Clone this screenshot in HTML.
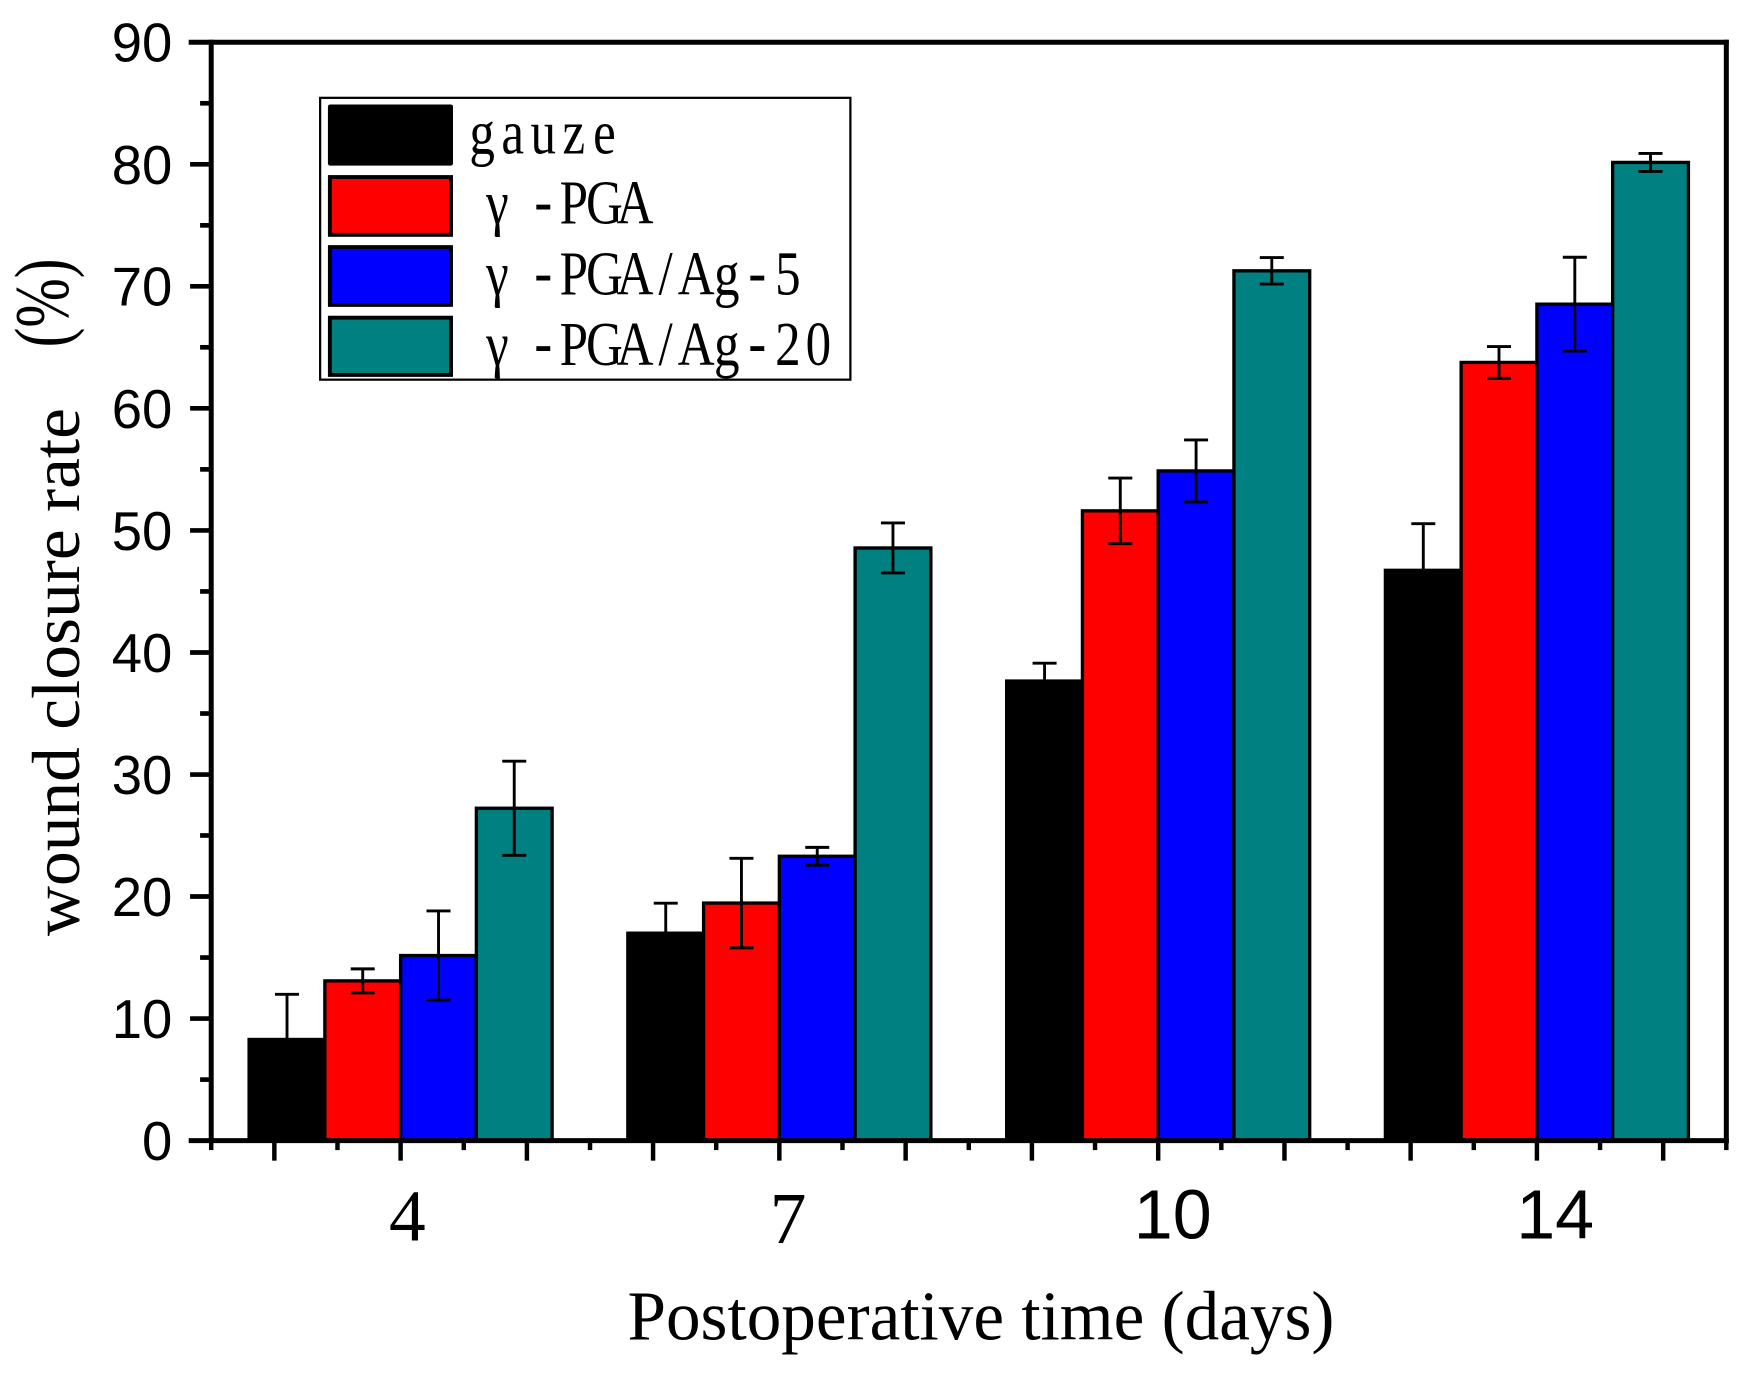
<!DOCTYPE html>
<html>
<head>
<meta charset="utf-8">
<style>
html,body{margin:0;padding:0;background:#fff;}
svg{display:block;}
</style>
</head>
<body>
<svg width="1743" height="1373" viewBox="0 0 1568 1235" preserveAspectRatio="none" xmlns="http://www.w3.org/2000/svg">
<rect x="0" y="0" width="1568" height="1235" fill="#fff"/>

<!-- Bars -->
<g stroke="#000" stroke-width="3">
  <rect x="224.1" y="935.0" width="68.15" height="91.0" fill="#000"/>
  <rect x="292.25" y="882.3" width="68.15" height="143.7" fill="#ff0000"/>
  <rect x="360.4" y="859.5" width="68.15" height="166.5" fill="#0000ff"/>
  <rect x="428.55" y="727.0" width="68.15" height="299.0" fill="#008080"/>
  <rect x="564.8" y="839.4" width="68.15" height="186.6" fill="#000"/>
  <rect x="632.95" y="812.3" width="68.15" height="213.7" fill="#ff0000"/>
  <rect x="701.1" y="770.2" width="68.15" height="255.8" fill="#0000ff"/>
  <rect x="769.25" y="492.9" width="68.15" height="533.1" fill="#008080"/>
  <rect x="905.6" y="612.6" width="68.15" height="413.4" fill="#000"/>
  <rect x="973.75" y="459.5" width="68.15" height="566.5" fill="#ff0000"/>
  <rect x="1041.9" y="423.6" width="68.15" height="602.4" fill="#0000ff"/>
  <rect x="1110.05" y="243.6" width="68.15" height="782.4" fill="#008080"/>
  <rect x="1246.3" y="513.0" width="68.15" height="513.0" fill="#000"/>
  <rect x="1314.45" y="326.0" width="68.15" height="700.0" fill="#ff0000"/>
  <rect x="1382.6" y="273.6" width="68.15" height="752.4" fill="#0000ff"/>
  <rect x="1450.75" y="146.1" width="68.15" height="879.9" fill="#008080"/>
</g>

<!-- Error bars -->
<g stroke="#000" stroke-width="2.6" fill="none">
  <path d="M258.2 894.4V975.6M247.4 894.4H269M247.4 975.6H269"/>
  <path d="M326.3 871.5V893.1M315.5 871.5H337.1M315.5 893.1H337.1"/>
  <path d="M394.5 819.4V899.6M383.7 819.4H405.3M383.7 899.6H405.3"/>
  <path d="M462.6 684.7V769.3M451.8 684.7H473.4M451.8 769.3H473.4"/>
  <path d="M598.9 812.4V866.4M588.1 812.4H609.7M588.1 866.4H609.7"/>
  <path d="M667.0 772.0V852.6M656.2 772.0H677.8M656.2 852.6H677.8"/>
  <path d="M735.2 762.2V778.2M724.4 762.2H746M724.4 778.2H746"/>
  <path d="M803.3 470.4V515.4M792.5 470.4H814.1M792.5 515.4H814.1"/>
  <path d="M939.7 596.5V628.7M928.9 596.5H950.5M928.9 628.7H950.5"/>
  <path d="M1007.8 430.0V489.0M997 430.0H1018.6M997 489.0H1018.6"/>
  <path d="M1076.0 395.7V451.5M1065.2 395.7H1086.8M1065.2 451.5H1086.8"/>
  <path d="M1144.1 231.7V255.5M1133.3 231.7H1154.9M1133.3 255.5H1154.9"/>
  <path d="M1280.4 471.1V554.9M1269.6 471.1H1291.2M1269.6 554.9H1291.2"/>
  <path d="M1348.5 311.7V340.3M1337.7 311.7H1359.3M1337.7 340.3H1359.3"/>
  <path d="M1416.7 231.4V315.8M1405.9 231.4H1427.5M1405.9 315.8H1427.5"/>
  <path d="M1484.8 138.0V154.2M1474 138.0H1495.6M1474 154.2H1495.6"/>
</g>

<!-- Axes frame -->
<g stroke="#000" stroke-width="4.5" fill="none" stroke-linecap="square">
  <line x1="190" y1="38" x2="190" y2="1026"/>
  <line x1="1553" y1="38" x2="1553" y2="1026"/>
  <line x1="172" y1="38" x2="1553" y2="38"/>
  <line x1="172" y1="1026" x2="1553" y2="1026"/>
</g>

<!-- Y ticks -->
<g stroke="#000" stroke-width="4.2">
  <line x1="171" y1="916.2" x2="190" y2="916.2"/>
  <line x1="171" y1="806.4" x2="190" y2="806.4"/>
  <line x1="171" y1="696.7" x2="190" y2="696.7"/>
  <line x1="171" y1="586.9" x2="190" y2="586.9"/>
  <line x1="171" y1="477.1" x2="190" y2="477.1"/>
  <line x1="171" y1="367.3" x2="190" y2="367.3"/>
  <line x1="171" y1="257.5" x2="190" y2="257.5"/>
  <line x1="171" y1="147.8" x2="190" y2="147.8"/>
  <line x1="180" y1="971.1" x2="190" y2="971.1"/>
  <line x1="180" y1="861.3" x2="190" y2="861.3"/>
  <line x1="180" y1="751.5" x2="190" y2="751.5"/>
  <line x1="180" y1="641.8" x2="190" y2="641.8"/>
  <line x1="180" y1="532.0" x2="190" y2="532.0"/>
  <line x1="180" y1="422.2" x2="190" y2="422.2"/>
  <line x1="180" y1="312.4" x2="190" y2="312.4"/>
  <line x1="180" y1="202.7" x2="190" y2="202.7"/>
  <line x1="180" y1="92.9" x2="190" y2="92.9"/>
</g>

<!-- X ticks -->
<g stroke="#000" stroke-width="4">
  <line x1="190" y1="1026" x2="190" y2="1034.5"/>
  <line x1="246.8" y1="1026" x2="246.8" y2="1044"/>
  <line x1="303.6" y1="1026" x2="303.6" y2="1034.5"/>
  <line x1="360.4" y1="1026" x2="360.4" y2="1044"/>
  <line x1="417.2" y1="1026" x2="417.2" y2="1034.5"/>
  <line x1="474.0" y1="1026" x2="474.0" y2="1044"/>
  <line x1="530.8" y1="1026" x2="530.8" y2="1034.5"/>
  <line x1="587.5" y1="1026" x2="587.5" y2="1044"/>
  <line x1="644.3" y1="1026" x2="644.3" y2="1034.5"/>
  <line x1="701.1" y1="1026" x2="701.1" y2="1044"/>
  <line x1="757.9" y1="1026" x2="757.9" y2="1034.5"/>
  <line x1="814.7" y1="1026" x2="814.7" y2="1044"/>
  <line x1="871.5" y1="1026" x2="871.5" y2="1034.5"/>
  <line x1="928.3" y1="1026" x2="928.3" y2="1044"/>
  <line x1="985.1" y1="1026" x2="985.1" y2="1034.5"/>
  <line x1="1041.9" y1="1026" x2="1041.9" y2="1044"/>
  <line x1="1098.7" y1="1026" x2="1098.7" y2="1034.5"/>
  <line x1="1155.5" y1="1026" x2="1155.5" y2="1044"/>
  <line x1="1212.3" y1="1026" x2="1212.3" y2="1034.5"/>
  <line x1="1269.0" y1="1026" x2="1269.0" y2="1044"/>
  <line x1="1325.8" y1="1026" x2="1325.8" y2="1034.5"/>
  <line x1="1382.6" y1="1026" x2="1382.6" y2="1044"/>
  <line x1="1439.4" y1="1026" x2="1439.4" y2="1034.5"/>
  <line x1="1496.2" y1="1026" x2="1496.2" y2="1044"/>
  <line x1="1553" y1="1026" x2="1553" y2="1034.5"/>
</g>

<!-- Y tick labels -->
<g font-family="'Liberation Sans', Arial, sans-serif" font-size="49" text-anchor="end" fill="#000">
  <text x="155" y="1043.5">0</text>
  <text x="155" y="933.7">10</text>
  <text x="155" y="823.9">20</text>
  <text x="155" y="714.2">30</text>
  <text x="155" y="604.4">40</text>
  <text x="155" y="494.6">50</text>
  <text x="155" y="384.8">60</text>
  <text x="155" y="275.0">70</text>
  <text x="155" y="165.3">80</text>
  <text x="155" y="55.5">90</text>
</g>

<!-- X tick labels -->
<g fill="#000" text-anchor="middle">
  <text x="366.5" y="1116" font-family="'Liberation Serif', 'Times New Roman', serif" font-size="66">4</text>
  <text x="709" y="1118" font-family="'Liberation Serif', 'Times New Roman', serif" font-size="66">7</text>
  <text x="1055" y="1114" font-family="'Liberation Sans', Arial, sans-serif" font-size="63">10</text>
  <text x="1399" y="1114" font-family="'Liberation Sans', Arial, sans-serif" font-size="63">14</text>
</g>

<!-- Axis titles -->
<text x="564.5" y="1205" font-family="'Liberation Serif', 'Times New Roman', serif" font-size="63" textLength="636" lengthAdjust="spacingAndGlyphs" fill="#000">Postoperative time (days)</text>

<text transform="translate(71,842) rotate(-90)" x="0" y="0" font-family="'Liberation Serif', 'Times New Roman', serif" font-size="61" textLength="475" lengthAdjust="spacingAndGlyphs" fill="#000">wound closure rate</text>
<text transform="translate(61,272.5) rotate(-90)" x="0" y="0" text-anchor="middle" font-family="'Liberation Serif', 'Times New Roman', serif" font-size="70" textLength="80" lengthAdjust="spacingAndGlyphs" fill="#000">(%)</text>

<!-- Legend -->
<rect x="288" y="88" width="477" height="253.5" fill="#fff" stroke="#000" stroke-width="2"/>
<rect x="295" y="94" width="112.5" height="55" rx="2" fill="#000"/>
<rect x="296.75" y="159.25" width="109" height="52" fill="#ff0000" stroke="#000" stroke-width="3.5"/>
<rect x="296.75" y="222.25" width="109" height="52" fill="#0000ff" stroke="#000" stroke-width="3.5"/>
<rect x="296.75" y="285.75" width="109" height="51.5" fill="#008080" stroke="#000" stroke-width="3.5"/>

<g transform="scale(0.82 1)" font-family="'Liberation Serif', 'Times New Roman', serif" font-size="56" fill="#000" text-anchor="middle">
  <text x="528.96 562.5 596.04 629.57 663.11" y="138">gauze</text>
  <text y="201"><tspan x="545.73">γ</tspan><tspan x="579.27"> </tspan><tspan x="596.04" font-family="'Liberation Mono', monospace">-</tspan><tspan x="629.57 663.11 696.65">PGA</tspan></text>
  <text y="265"><tspan x="545.73">γ</tspan><tspan x="579.27"> </tspan><tspan x="596.04" font-family="'Liberation Mono', monospace">-</tspan><tspan x="629.57 663.11 696.65 730.18 763.72 797.26">PGA/Ag</tspan><tspan x="830.79" font-family="'Liberation Mono', monospace">-</tspan><tspan x="864.33">5</tspan></text>
  <text y="328.5"><tspan x="545.73">γ</tspan><tspan x="579.27"> </tspan><tspan x="596.04" font-family="'Liberation Mono', monospace">-</tspan><tspan x="629.57 663.11 696.65 730.18 763.72 797.26">PGA/Ag</tspan><tspan x="830.79" font-family="'Liberation Mono', monospace">-</tspan><tspan x="864.33 897.87">20</tspan></text>
</g>
</svg>
</body>
</html>
